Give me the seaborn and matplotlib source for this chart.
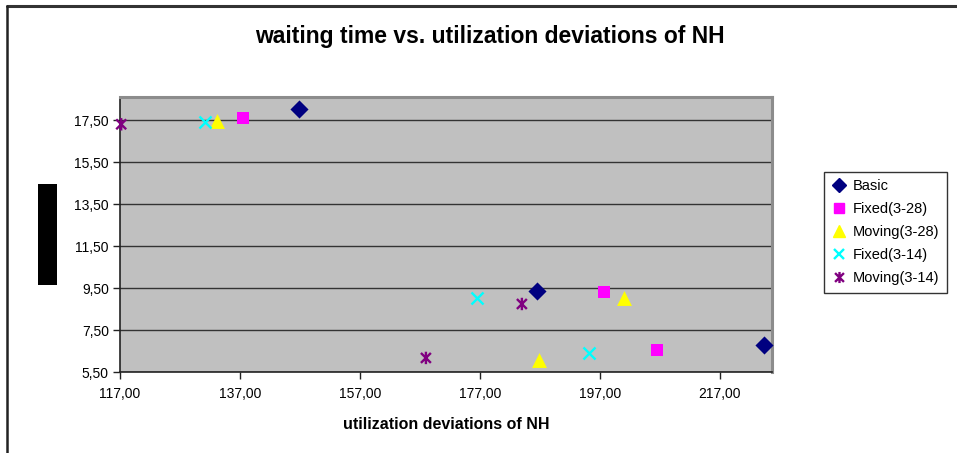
import matplotlib
matplotlib.use("Agg")
import matplotlib.pyplot as plt
from matplotlib.lines import Line2D
from matplotlib.patches import Rectangle
from matplotlib.path import Path
from matplotlib.ticker import FixedLocator, FuncFormatter
import seaborn as sns
import pandas as pd

# Series: utilization deviations (x) and waiting time (y)
series_names = ["Basic", "Fixed(3-28)", "Moving(3-28)", "Fixed(3-14)", "Moving(3-14)"]
basic_x = [146.8, 186.5, 224.3]
basic_y = [18.02, 9.36, 6.79]
fixed28_x = [137.5, 197.7, 206.5]
fixed28_y = [17.60, 9.31, 6.55]
moving28_x = [133.2, 201.0, 186.8]
moving28_y = [17.45, 9.02, 6.07]
fixed14_x = [131.2, 176.5, 195.2]
fixed14_y = [17.40, 9.02, 6.40]
moving14_x = [117.2, 184.0, 168.0]
moving14_y = [17.30, 8.74, 6.17]

x_ticks = [117, 137, 157, 177, 197, 217]
y_ticks = [5.5, 7.5, 9.5, 11.5, 13.5, 15.5, 17.5]

title_text = "waiting time vs. utilization deviations of NH"
xlabel_text = "utilization deviations of NH"

sns.set_theme(style="white")
plt.rcParams["font.family"] = ["Liberation Sans", "DejaVu Sans"]
plt.rcParams["text.color"] = "black"
plt.rcParams["axes.labelcolor"] = "black"

W, H = 957, 453
fig = plt.figure(figsize=(W / 100, H / 100), dpi=100)
fig.patch.set_facecolor("white")

# axes rectangle in pixel space
L, R, T, B = 120, 772, 97, 372
ax = fig.add_axes([L / W, 1 - B / H, (R - L) / W, (B - T) / H])
ax.set_facecolor("#c0c0c0")

# asterisk marker: vertical bar plus an X
star = Path(
    [(0, -1), (0, 1), (-0.8, -0.8), (0.8, 0.8), (-0.8, 0.8), (0.8, -0.8)],
    [Path.MOVETO, Path.LINETO, Path.MOVETO, Path.LINETO, Path.MOVETO, Path.LINETO],
)

frames = []
for name, xs, ys in zip(
    series_names,
    [basic_x, fixed28_x, moving28_x, fixed14_x, moving14_x],
    [basic_y, fixed28_y, moving28_y, fixed14_y, moving14_y],
):
    frames.append(pd.DataFrame({"x": xs, "y": ys, "series": name}))
df = pd.concat(frames, ignore_index=True)

styles = {
    "Basic": dict(color="#000080", marker="D", s=85, edgecolor="#000080", linewidth=0),
    "Fixed(3-28)": dict(color="#ff00ff", marker="s", s=85, edgecolor="#ff00ff", linewidth=0),
    "Moving(3-28)": dict(color="#ffff00", marker="^", s=115, edgecolor="#ffff00", linewidth=0),
    "Fixed(3-14)": dict(color="#00ffff", marker="x", s=75, linewidth=1.7),
    "Moving(3-14)": dict(color="#800080", marker=star, s=80, facecolor="none",
                         edgecolor="#800080", linewidth=1.7),
}

for name in series_names:
    sub = df[df["series"] == name]
    st = dict(styles[name])
    sns.scatterplot(data=sub, x="x", y="y", ax=ax, label=name, legend=False,
                    zorder=3, clip_on=False, **st)

ax.set_xlim(117, 225.7)
ax.set_ylim(5.5, 18.6)
ax.xaxis.set_major_locator(FixedLocator(x_ticks))
ax.yaxis.set_major_locator(FixedLocator(y_ticks))
fmt = FuncFormatter(lambda v, p: f"{v:.2f}".replace(".", ","))
ax.xaxis.set_major_formatter(fmt)
ax.yaxis.set_major_formatter(fmt)

ax.grid(axis="y", color="#333333", linewidth=1.0, zorder=1)
ax.grid(axis="x", visible=False)
ax.set_axisbelow(True)

ax.tick_params(axis="both", which="major", direction="out", length=5, width=1,
               color="#222222", labelsize=10, labelcolor="black",
               bottom=True, left=True)
ax.tick_params(axis="x", pad=6)
ax.tick_params(axis="y", pad=3)

for side in ["left", "bottom"]:
    ax.spines[side].set_color("#222222")
    ax.spines[side].set_linewidth(1.2)
for side in ["top", "right"]:
    ax.spines[side].set_color("#8c8c8c")
    ax.spines[side].set_linewidth(2.2)

ax.set_xlabel(xlabel_text, fontsize=11.5, fontweight="bold", labelpad=11, color="black")
ax.set_ylabel("")

fig.text(490 / W, 1 - 36 / H, title_text, ha="center", va="center",
         fontsize=16.5, fontweight="bold", color="black")

# legend handles
handles = []
for name in series_names:
    st = styles[name]
    m = st["marker"]
    if name == "Moving(3-14)":
        h = Line2D([], [], linestyle="none", marker=star, markersize=8,
                   markeredgecolor=st["edgecolor"], markeredgewidth=1.7,
                   markerfacecolor="none")
    elif name == "Fixed(3-14)":
        h = Line2D([], [], linestyle="none", marker="x", markersize=7,
                   markeredgecolor=st["color"], markeredgewidth=1.7)
    else:
        size = {"D": 7, "s": 7, "^": 9}[m]
        h = Line2D([], [], linestyle="none", marker=m, markersize=size,
                   markerfacecolor=st["color"], markeredgecolor=st["color"])
    handles.append(h)

leg = ax.legend(handles, series_names, loc="upper left",
                bbox_to_anchor=(824 / W, 1 - 172 / H), bbox_transform=fig.transFigure,
                frameon=True, fancybox=False, fontsize=10.5, labelspacing=0.62,
                handlelength=1.0, handletextpad=0.5, borderpad=0.5, borderaxespad=0)
leg.get_frame().set_edgecolor("black")
leg.get_frame().set_linewidth(1.0)
leg.get_frame().set_facecolor("white")
for t in leg.get_texts():
    t.set_color("black")

# obscured y-axis title block
fig.add_artist(Rectangle((38 / W, 1 - 285 / H), 19 / W, 101 / H,
                         transform=fig.transFigure, facecolor="black",
                         edgecolor="none"))

# outer chart frame (top and left edges)
fig.add_artist(Line2D([7 / W, 1], [1 - 6 / H, 1 - 6 / H], transform=fig.transFigure,
                      color="#333333", linewidth=2.2))
fig.add_artist(Line2D([7 / W, 7 / W], [0, 1 - 6 / H], transform=fig.transFigure,
                      color="#222222", linewidth=1.8))

fig.savefig("out.png", dpi=100)
